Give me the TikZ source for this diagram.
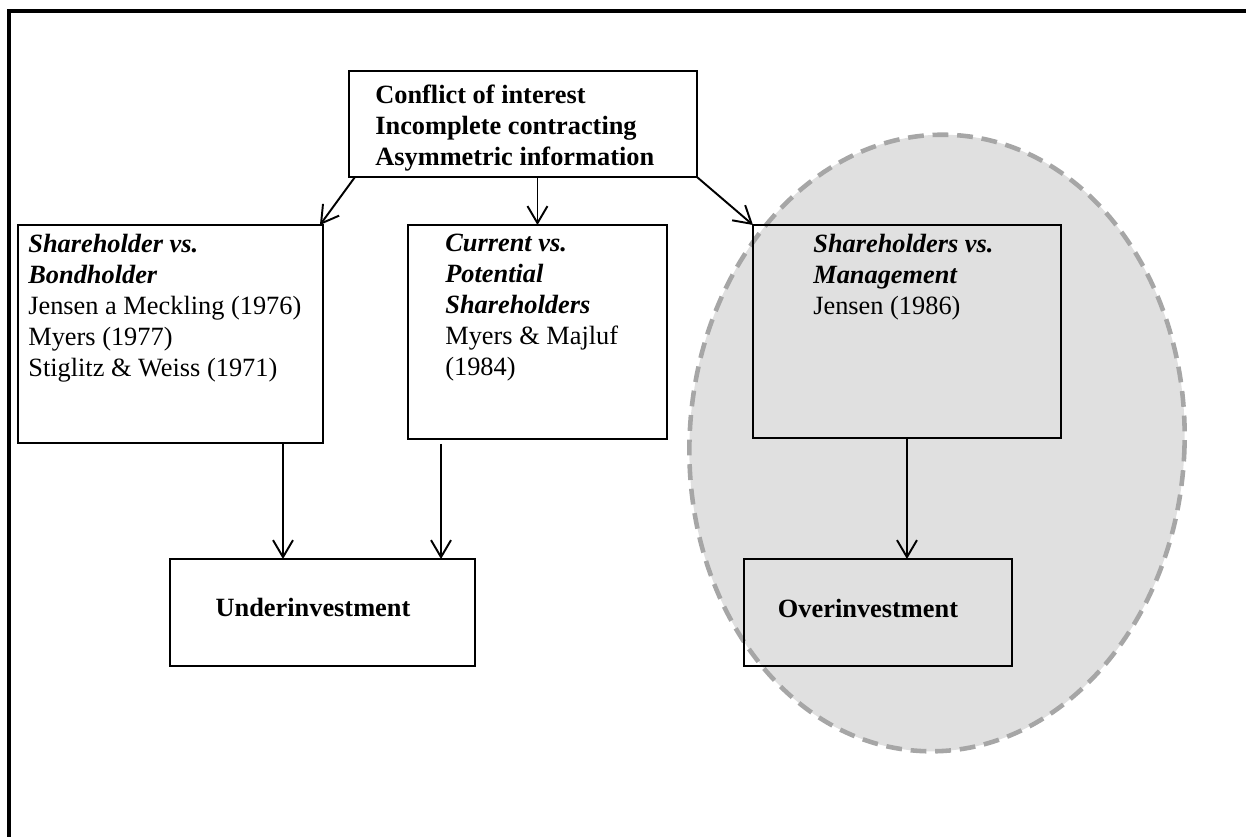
\documentclass[tikz,border=0pt]{standalone}
\usepackage{fontspec}
\setmainfont{Liberation Serif}
\usetikzlibrary{arrows.meta,calc}

\begin{document}
\begin{tikzpicture}[x=0.02cm,y=-0.02cm,
		>={Straight Barb[length=3.4mm,width=4mm]},
		box/.style={draw,line width=1.6pt,rectangle,anchor=north west,outer sep=0pt,inner sep=0pt},
		txt/.style={anchor=north west,inner sep=0pt,align=left,font=\fontsize{15}{17.6}\selectfont},
		link/.style={->,line width=1.1pt}]
		\useasboundingbox (0,0) rectangle (1246,836);
		\clip (0,0) rectangle (1246,836);
		%Frame
		\draw[line width=1.8pt] (9,11) rectangle (1300,900);
		%Shading
		\fill[fill=black!12,rotate around={-3:(937,443)}] (937,443) ellipse [x radius=4.95cm,y radius=6.17cm];
		\draw[black!35,line width=2.6pt,dash pattern=on 9pt off 5pt,rotate around={-3:(937,443)}] (937,443) ellipse [x radius=4.95cm,y radius=6.17cm];
		%Boxes
		\node[box,minimum width=6.96cm,minimum height=2.12cm] (causes) at (349,71) {};
		\node[box,minimum width=6.10cm,minimum height=4.36cm] (shbond) at (18,225) {};
		\node[box,minimum width=5.18cm,minimum height=4.28cm] (shcurr) at (408,225) {};
		\node[box,minimum width=6.16cm,minimum height=4.26cm] (shmgmt) at (753,225) {};
		\node[box,minimum width=6.10cm,minimum height=2.14cm] (under) at (170,559) {};
		\node[box,minimum width=5.36cm,minimum height=2.14cm] (over) at (744,559) {};
		%Texts
		\node[txt,anchor=west,font=\fontsize{15}{17.6}\selectfont\bfseries] (causestxt) at (375,128)
			{Conflict of interest\\Incomplete contracting\\Asymmetric information};
		\node[txt] (shbondtxt) at (28,234) {\textbf{\textit{Shareholder vs.}}\\\textbf{\textit{Bondholder}}\\Jensen a Meckling (1976)\\Myers (1977)\\Stiglitz \& Weiss (1971)};
		\node[txt] (shcurrtxt) at (445,234) {\textbf{\textit{Current vs.}}\\\textbf{\textit{Potential}}\\\textbf{\textit{Shareholders}}\\Myers \& Majluf\\(1984)};
		\node[txt] (shmgmttxt) at (813,234) {\textbf{\textit{Shareholders vs.}}\\\textbf{\textit{Management}}\\Jensen (1986)};
		\node[txt,anchor=center,font=\fontsize{15}{17.6}\selectfont\bfseries] (undertxt) at (313,607) {Underinvestment};
		\node[txt,anchor=center,font=\fontsize{15}{17.6}\selectfont\bfseries] (overtxt) at (868,608) {Overinvestment};
		%Arrows
		\draw[link] ($(causes.south west)+(6,0)$) -- ($(shbond.north east)+(-3,0)$);
		\draw[link] (causes.south -| shcurr.north) -- (shcurr.north);
		\draw[link] (causes.south east) -- (shmgmt.north west);
		\draw[link] ($(shbond.south west)+(265,0)$) -- ($(under.north west)+(113,0)$);
		\draw[link] ($(shcurr.south west)+(33,5)$) -- ($(under.north west)+(271,0)$);
		\draw[link] (shmgmt.south) -- (shmgmt.south |- over.north);
		\end{tikzpicture}
\end{document}
